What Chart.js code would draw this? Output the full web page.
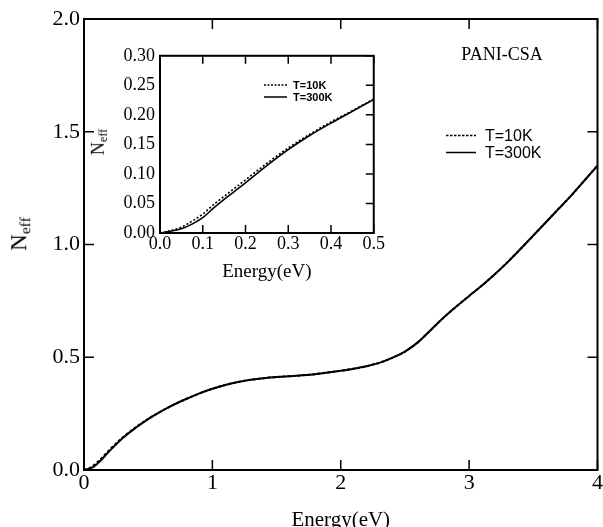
<!DOCTYPE html>
<html>
<head>
<meta charset="utf-8">
<title>PANI-CSA Neff</title>
<script src="https://cdn.jsdelivr.net/npm/chart.js@4.4.0/dist/chart.umd.min.js"></script>
<style>
  html, body { margin: 0; padding: 0; background: #fff; }
  #wrap { position: relative; width: 603px; height: 527px; overflow: hidden; font-family: 'Liberation Serif', 'Times New Roman', serif; color: #000; }
  #main { position: absolute; left: 0; top: 0; }
  #inset { position: absolute; left: 90px; top: 40px; }
  .ylab { position: absolute; transform: translate(-50%, -50%) rotate(-90deg); white-space: nowrap; line-height: 1; }
  .ylab sub { font-size: 0.68em; vertical-align: -0.25em; }
  .note { position: absolute; transform: translate(-50%, -50%); white-space: nowrap; line-height: 1; }
  .legend { position: absolute; font-family: 'Liberation Sans', Arial, sans-serif; }
  .legend .row { display: flex; align-items: center; white-space: nowrap; }
  .legend svg { display: block; }
</style>
</head>
<body>
<div id="wrap">
  <canvas id="main" width="603" height="527"></canvas>
  <canvas id="inset" width="295" height="245"></canvas>
  <div class="ylab" style="left:20px; top:234px; font-size:23px;">N<sub>eff</sub></div>
  <div class="ylab" style="left:99px; top:142px; font-size:18px;">N<sub>eff</sub></div>
  <div class="note" style="left:502px; top:54px; font-size:18px;">PANI-CSA</div>
  <div class="legend" id="legMain" style="left:446px; top:127px;"></div>
  <div class="legend" id="legInset" style="left:264px; top:79px;"></div>
</div>
<script>
// effective electron number vs photon energy, PANI-CSA at two temperatures
const seriesLabels = ['T=10K', 'T=300K'];

// full range 0 - 4 eV
const mainEnergy = [0, 0.05, 0.1, 0.2, 0.3, 0.4, 0.5, 0.6, 0.7, 0.8, 0.9, 1.0,
  1.1, 1.2, 1.3, 1.4, 1.5, 1.6, 1.7, 1.8, 1.9, 2.0, 2.1, 2.2, 2.3, 2.4, 2.5,
  2.6, 2.7, 2.8, 2.9, 3.0, 3.1, 3.2, 3.3, 3.4, 3.5, 3.6, 3.7, 3.8, 3.9, 4.0];
const main10K = [0, 0.010, 0.032, 0.090, 0.144, 0.188, 0.227, 0.26, 0.29, 0.316, 0.34, 0.36,
  0.377, 0.39, 0.40, 0.407, 0.412, 0.416, 0.42, 0.425, 0.432, 0.44, 0.449, 0.46, 0.475, 0.497, 0.525,
  0.566, 0.62, 0.675, 0.725, 0.772, 0.818, 0.868, 0.922, 0.98, 1.04, 1.10, 1.16, 1.22, 1.285, 1.35];
const main300K = [0, 0.007, 0.026, 0.085, 0.141, 0.186, 0.226, 0.26, 0.29, 0.316, 0.34, 0.36,
  0.377, 0.39, 0.40, 0.407, 0.412, 0.416, 0.42, 0.425, 0.432, 0.44, 0.449, 0.46, 0.475, 0.497, 0.525,
  0.566, 0.62, 0.675, 0.725, 0.772, 0.818, 0.868, 0.922, 0.98, 1.04, 1.10, 1.16, 1.22, 1.285, 1.35];

// low energy detail 0 - 0.5 eV
const insetEnergy = [0, 0.025, 0.05, 0.075, 0.1, 0.125, 0.15, 0.175, 0.2, 0.25, 0.3, 0.35, 0.4, 0.45, 0.5];
const inset10K  = [0, 0.004, 0.010, 0.020, 0.032, 0.048, 0.062, 0.076, 0.090, 0.118, 0.144, 0.167, 0.188, 0.207, 0.227];
const inset300K = [0, 0.003, 0.007, 0.015, 0.026, 0.042, 0.057, 0.071, 0.085, 0.114, 0.141, 0.165, 0.186, 0.206, 0.226];

const mainTicksX = { min: 0, max: 4, step: 1 };
const mainTicksY = { min: 0, max: 2, step: 0.5 };
const insetTicksX = { min: 0, max: 0.5, step: 0.1 };
const insetTicksY = { min: 0, max: 0.3, step: 0.05 };

Chart.defaults.font.family = "'Liberation Serif', 'Times New Roman', serif";
Chart.defaults.color = '#000';

function xy(xs, ys) { return xs.map((x, i) => ({ x: x, y: ys[i] })); }

// box round the plot plus inward tick marks
const frameTicks = {
  id: 'frameTicks',
  afterDatasetsDraw(chart, args, opts) {
    const ctx = chart.ctx, a = chart.chartArea;
    const sx = chart.scales.x, sy = chart.scales.y;
    const len = opts.len;
    ctx.save();
    ctx.strokeStyle = '#000';
    ctx.lineWidth = opts.tickWidth;
    ctx.beginPath();
    sx.ticks.forEach(t => {
      const px = sx.getPixelForValue(t.value);
      ctx.moveTo(px, a.bottom); ctx.lineTo(px, a.bottom - len);
      ctx.moveTo(px, a.top); ctx.lineTo(px, a.top + len);
    });
    sy.ticks.forEach(t => {
      const py = sy.getPixelForValue(t.value);
      if (opts.left) { ctx.moveTo(a.left, py); ctx.lineTo(a.left + len, py); }
      ctx.moveTo(a.right, py); ctx.lineTo(a.right - len, py);
    });
    ctx.stroke();
    ctx.lineWidth = opts.frameWidth;
    ctx.strokeRect(a.left, a.top, a.right - a.left, a.bottom - a.top);
    ctx.restore();
  }
};

function makeDatasets(e, s10, s300, width, dash) {
  return [
    { label: seriesLabels[0], data: xy(e, s10), borderColor: '#000', borderWidth: width,
      borderDash: dash, pointRadius: 0, cubicInterpolationMode: 'monotone', fill: false },
    { label: seriesLabels[1], data: xy(e, s300), borderColor: '#000', borderWidth: width,
      pointRadius: 0, cubicInterpolationMode: 'monotone', fill: false }
  ];
}

function makeOptions(cfg) {
  return {
    responsive: false,
    animation: false,
    devicePixelRatio: 1,
    layout: { padding: cfg.padding },
    plugins: {
      legend: { display: false },
      tooltip: { enabled: false },
      frameTicks: cfg.frame
    },
    scales: {
      x: {
        type: 'linear', min: cfg.tx.min, max: cfg.tx.max,
        grid: { display: false, drawTicks: false },
        border: { display: false },
        ticks: { stepSize: cfg.tx.step, padding: cfg.xPad, maxRotation: 0, autoSkip: false,
          font: { size: cfg.tickSize }, callback: v => Number(v).toFixed(cfg.xDec) },
        title: { display: true, text: 'Energy(eV)', font: { size: cfg.titleSize },
          padding: { top: 0, bottom: cfg.titlePad } },
        afterFit: s => { s.height = cfg.xHeight; }
      },
      y: {
        type: 'linear', min: cfg.ty.min, max: cfg.ty.max,
        grid: { display: false, drawTicks: false },
        border: { display: false },
        ticks: { stepSize: cfg.ty.step, padding: cfg.yPad, autoSkip: false,
          font: { size: cfg.tickSize }, callback: v => Number(v).toFixed(cfg.yDec) },
        afterFit: s => { s.width = cfg.yWidth; }
      }
    }
  };
}

new Chart(document.getElementById('main'), {
  type: 'line',
  data: { datasets: makeDatasets(mainEnergy, main10K, main300K, 2, [3, 2]) },
  options: makeOptions({
    padding: { top: 19, right: 3, left: 0, bottom: 0 },
    tx: mainTicksX, ty: mainTicksY, xDec: 0, yDec: 1,
    tickSize: 22, titleSize: 21, titlePad: -6,
    xPad: 0, yPad: 4, xHeight: 57, yWidth: 84,
    frame: { len: 10, tickWidth: 1.5, frameWidth: 2, left: true }
  }),
  plugins: [frameTicks]
});

new Chart(document.getElementById('inset'), {
  type: 'line',
  data: { datasets: makeDatasets(insetEnergy, inset10K, inset300K, 1.6, [2, 2]) },
  options: makeOptions({
    padding: { top: 14, right: 6, left: 0, bottom: 0 },
    tx: insetTicksX, ty: insetTicksY, xDec: 1, yDec: 2,
    tickSize: 18, titleSize: 19, titlePad: 2,
    xPad: 0, yPad: 5, xHeight: 52, yWidth: 70,
    frame: { len: 8, tickWidth: 1.5, frameWidth: 2, left: false }
  }),
  plugins: [frameTicks]
});

// legends built from the same labels / dash styles as the datasets
function buildLegend(id, lineW, rowH, gap, font, dash) {
  const box = document.getElementById(id);
  seriesLabels.forEach((lab, i) => {
    const row = document.createElement('div');
    row.className = 'row';
    row.style.height = rowH + 'px';
    const dashAttr = i === 0 ? ' stroke-dasharray="' + dash + '"' : '';
    row.innerHTML = '<svg width="' + lineW + '" height="' + rowH + '"><line x1="0" x2="' + lineW +
      '" y1="' + rowH / 2 + '" y2="' + rowH / 2 + '" stroke="#000" stroke-width="1.5"' + dashAttr +
      '/></svg><span style="margin-left:' + gap + 'px;' + font + '">' + lab + '</span>';
    box.appendChild(row);
  });
}
buildLegend('legMain', 30, 17, 9, 'font-size:16px;', '2.5,1.5');
buildLegend('legInset', 23, 12, 6, 'font-size:11px;font-weight:bold;', '2,1.5');
</script>
</body>
</html>
